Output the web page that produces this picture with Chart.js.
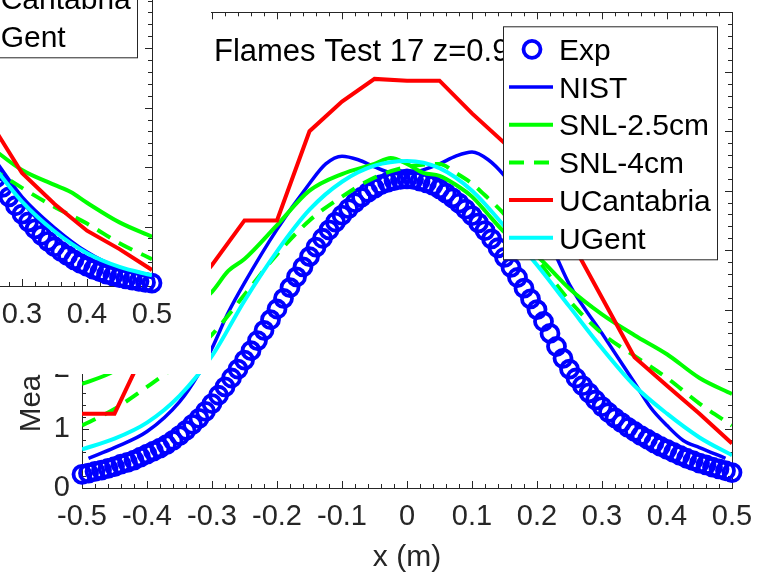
<!DOCTYPE html>
<html>
<head>
<meta charset="utf-8">
<script src="https://cdn.jsdelivr.net/npm/chart.js@4"></script>
<style>
  html, body { margin: 0; padding: 0; background: #fff; }
  #stage { position: relative; width: 769px; height: 574px; overflow: hidden; }
  .fig { position: absolute; width: 769px; height: 574px; }
  #inset { position: absolute; left: 0; top: 0; width: 211px; height: 374px; overflow: hidden; background: #fff; z-index: 2; }
  #inset .fig { left: -580px; top: -202px; }
</style>
</head>
<body>
<div id="stage">
  <div class="fig" style="left:0;top:0"><canvas id="mainChart" width="769" height="574"></canvas></div>
  <div id="inset"><div class="fig"><canvas id="insetChart" width="769" height="574"></canvas></div></div>
</div>
<script>
const seriesNames = ["Exp", "NIST", "SNL-2.5cm", "SNL-4cm", "UCantabria", "UGent"];
const xTicks = [-0.5, -0.4, -0.3, -0.2, -0.1, 0, 0.1, 0.2, 0.3, 0.4, 0.5];
const yTicks = [0, 1, 2, 3, 4, 5, 6, 7, 8];

// z = 0.9 m profiles
const expY = [
  0.23, 0.25, 0.28, 0.30, 0.33, 0.36, 0.40, 0.43, 0.47, 0.52,
  0.57, 0.62, 0.67, 0.73, 0.80, 0.88, 0.97, 1.07, 1.17, 1.29,
  1.42, 1.56, 1.70, 1.85, 2.00, 2.15, 2.31, 2.48, 2.65, 2.83,
  3.01, 3.19, 3.37, 3.55, 3.72, 3.89, 4.05, 4.20, 4.34, 4.47,
  4.59, 4.70, 4.80, 4.89, 4.97, 5.04, 5.10, 5.14, 5.17, 5.19,
  5.20,
  5.19, 5.16, 5.13, 5.09, 5.03, 4.96, 4.88, 4.79, 4.69, 4.58,
  4.46, 4.33, 4.19, 4.04, 3.88, 3.71, 3.54, 3.36, 3.18, 3.00,
  2.80, 2.60, 2.38, 2.18, 2.00, 1.85, 1.72, 1.60, 1.48, 1.37,
  1.27, 1.18, 1.10, 1.02, 0.95, 0.88, 0.82, 0.76, 0.70, 0.65,
  0.60, 0.55, 0.50, 0.46, 0.42, 0.39, 0.35, 0.32, 0.29, 0.26
];
const expX = expY.map((v, i) => +(-0.5 + i * 0.01).toFixed(2));

const nistX = [-0.49, -0.45, -0.4, -0.35, -0.32, -0.3, -0.275, -0.25, -0.2, -0.15, -0.125, -0.1, -0.075, -0.05, -0.025, 0,
  0.025, 0.05, 0.075, 0.1, 0.125, 0.15, 0.2, 0.225, 0.25, 0.3, 0.35, 0.375, 0.4, 0.425, 0.45, 0.49];
const nistY = [0.5, 0.68, 0.95, 1.45, 1.93, 2.35, 2.95, 3.45, 4.35, 5.12, 5.45, 5.58, 5.52, 5.4, 5.3, 5.28,
  5.35, 5.45, 5.58, 5.65, 5.52, 5.25, 4.5, 4.0, 3.42, 2.6, 1.77, 1.35, 1.05, 0.8, 0.68, 0.5];

const snl25X = [-0.5, -0.45, -0.4, -0.35, -0.3, -0.275, -0.25, -0.2, -0.15, -0.1, -0.05, -0.025, 0, 0.025, 0.05,
  0.075, 0.1, 0.125, 0.15, 0.2, 0.25, 0.3, 0.35, 0.4, 0.45, 0.5];
const snl25Y = [1.75, 1.97, 2.4, 2.85, 3.3, 3.65, 3.85, 4.42, 5.0, 5.28, 5.45, 5.55, 5.45, 5.3, 5.25,
  5.1, 4.9, 4.6, 4.3, 3.9, 3.35, 2.92, 2.57, 2.25, 1.85, 1.58];

const snl4X = [-0.5, -0.45, -0.4, -0.35, -0.3, -0.25, -0.2, -0.15, -0.1, -0.05, 0, 0.05, 0.075, 0.1, 0.125,
  0.15, 0.2, 0.25, 0.3, 0.35, 0.4, 0.45, 0.5];
const snl4Y = [1.05, 1.33, 1.7, 2.1, 2.58, 3.25, 3.93, 4.5, 4.9, 5.22, 5.4, 5.45, 5.3, 5.12, 4.87,
  4.6, 3.85, 3.15, 2.6, 2.22, 1.85, 1.42, 1.05];

const ucX = [-0.5, -0.45, -0.4, -0.35, -0.3, -0.25, -0.2, -0.15, -0.1, -0.05, 0, 0.05, 0.1, 0.15, 0.2,
  0.25, 0.3, 0.35, 0.4, 0.45, 0.5];
const ucY = [1.25, 1.25, 2.4, 3.1, 3.75, 4.5, 4.5, 6.0, 6.5, 6.88, 6.85, 6.85, 6.3, 5.8, 5.05,
  4.2, 3.2, 2.2, 1.72, 1.25, 0.75];

const ugentX = [-0.5, -0.45, -0.4, -0.35, -0.3, -0.25, -0.2, -0.15, -0.1, -0.05, 0, 0.05, 0.1, 0.15, 0.2,
  0.25, 0.3, 0.35, 0.4, 0.45, 0.5];
const ugentY = [0.65, 0.83, 1.1, 1.55, 2.22, 3.15, 3.98, 4.68, 5.15, 5.42, 5.5, 5.38, 5.0, 4.4, 3.75,
  3.05, 2.35, 1.72, 1.25, 0.85, 0.55];

// lower-height profiles, outer half only
const insetExpY = [
  1.98, 1.82, 1.66, 1.50, 1.35, 1.21, 1.08, 0.96, 0.85, 0.75,
  0.66, 0.58, 0.51, 0.44, 0.38, 0.33, 0.28, 0.24, 0.20, 0.17,
  0.14, 0.12, 0.10, 0.08, 0.06, 0.05
];
const insetExpX = insetExpY.map((v, i) => +(0.25 + i * 0.01).toFixed(2));
const insetNistX = [0.25, 0.3, 0.35, 0.4, 0.45, 0.5];
const insetNistY = [2.25, 1.5, 0.98, 0.57, 0.3, 0.14];
const insetSnl25X = [0.25, 0.3, 0.35, 0.375, 0.4, 0.45, 0.5];
const insetSnl25Y = [2.35, 1.95, 1.7, 1.58, 1.4, 1.07, 0.83];
const insetSnl4X = [0.25, 0.3, 0.35, 0.4, 0.45, 0.5];
const insetSnl4Y = [2.0, 1.65, 1.33, 1.05, 0.72, 0.45];
const insetUcX = [0.25, 0.3, 0.35, 0.4, 0.45, 0.5];
const insetUcY = [2.78, 1.9, 1.38, 0.93, 0.62, 0.27];
const insetUgentX = [0.25, 0.3, 0.35, 0.4, 0.45, 0.5];
const insetUgentY = [2.1, 1.42, 0.92, 0.55, 0.32, 0.18];

const FONT = '"Liberation Sans", Arial, Helvetica, sans-serif';
const AXIS_COLOR = "#262626";
const BLUE = "rgb(0,0,255)", GREEN = "rgb(0,255,0)", RED = "rgb(255,0,0)", CYAN = "rgb(0,255,255)";

function toPoints(xs, ys) {
  return xs.map((x, i) => ({ x: x, y: ys[i] }));
}

// box with inward major/minor ticks on all four sides
const boxAxes = {
  id: "boxAxes",
  beforeDatasetsDraw(chart) {
    const { ctx, chartArea: a, scales } = chart;
    ctx.save();
    ctx.strokeStyle = AXIS_COLOR;
    ctx.lineWidth = 1;
    ctx.beginPath();
    for (let i = 0; i <= 50; i++) {
      const px = Math.round(scales.x.getPixelForValue(-0.5 + i * 0.02)) + 0.5;
      const len = i % 5 === 0 ? 7 : 4;
      ctx.moveTo(px, a.bottom); ctx.lineTo(px, a.bottom - len);
      ctx.moveTo(px, a.top); ctx.lineTo(px, a.top + len);
    }
    for (let i = 0; i <= 40; i++) {
      const py = Math.round(scales.y.getPixelForValue(i * 0.2)) + 0.5;
      const len = i % 5 === 0 ? 7 : 4;
      ctx.moveTo(a.left, py); ctx.lineTo(a.left + len, py);
      ctx.moveTo(a.right, py); ctx.lineTo(a.right - len, py);
    }
    ctx.stroke();
    ctx.strokeRect(Math.round(a.left) + 0.5, Math.round(a.top) + 0.5,
      Math.round(a.right - a.left), Math.round(a.bottom - a.top));
    ctx.restore();
  }
};

// in-axes title text, then the boxed legend in the upper right
const titleAndLegend = {
  id: "titleAndLegend",
  afterDraw(chart, args, opts) {
    const { ctx, chartArea: a, scales } = chart;
    ctx.save();
    if (opts.title) {
      ctx.font = "31px " + FONT;
      ctx.fillStyle = "#000";
      ctx.textBaseline = "alphabetic";
      ctx.fillText(opts.title, scales.x.getPixelForValue(-0.297), scales.y.getPixelForValue(7.18));
    }
    const w = 214, h = 233;
    const left = a.right - 15 - w, top = a.top + 14;
    ctx.fillStyle = "#fff";
    ctx.fillRect(left, top, w, h);
    ctx.strokeStyle = AXIS_COLOR;
    ctx.lineWidth = 1;
    ctx.strokeRect(left + 0.5, top + 0.5, w, h);
    ctx.font = "30px " + FONT;
    ctx.textBaseline = "alphabetic";
    seriesNames.forEach((name, i) => {
      const ds = chart.data.datasets[i];
      const cy = top + 23 + i * 37.7;
      ctx.strokeStyle = ds.borderColor;
      if (ds.showLine) {
        ctx.lineWidth = ds.borderWidth;
        ctx.setLineDash(ds.borderDash || []);
        ctx.beginPath();
        ctx.moveTo(left + 6, cy);
        ctx.lineTo(left + 50, cy);
        ctx.stroke();
        ctx.setLineDash([]);
      } else {
        ctx.lineWidth = ds.pointBorderWidth;
        ctx.beginPath();
        ctx.arc(left + 29, cy, ds.pointRadius, 0, Math.PI * 2);
        ctx.stroke();
      }
      ctx.fillStyle = "#000";
      ctx.fillText(name, left + 56, cy + 10.7);
    });
    ctx.restore();
  }
};

function makeFigure(canvasId, series, title) {
  const [exp, nist, snl25, snl4, uc, ugent] = series;
  const line = (pts, color, width, order, extra) => Object.assign({
    data: pts, showLine: true, borderColor: color, borderWidth: width,
    pointRadius: 0, cubicInterpolationMode: "monotone", order: order
  }, extra || {});
  const datasets = [
    {
      label: seriesNames[0], data: toPoints(exp[0], exp[1]), showLine: false,
      borderColor: BLUE, pointBorderColor: BLUE, pointBackgroundColor: "rgba(0,0,0,0)",
      pointRadius: 8.5, pointBorderWidth: 3.8, pointHoverRadius: 8.5, clip: false, order: 6
    },
    line(toPoints(nist[0], nist[1]), BLUE, 3.5, 5, { label: seriesNames[1] }),
    line(toPoints(snl25[0], snl25[1]), GREEN, 4, 4, { label: seriesNames[2] }),
    line(toPoints(snl4[0], snl4[1]), GREEN, 4, 3, { label: seriesNames[3], borderDash: [15, 10] }),
    line(toPoints(uc[0], uc[1]), RED, 4, 2, { label: seriesNames[4], cubicInterpolationMode: "default", tension: 0 }),
    line(toPoints(ugent[0], ugent[1]), CYAN, 4, 1, { label: seriesNames[5] })
  ];
  return new Chart(document.getElementById(canvasId), {
    type: "scatter",
    data: { datasets: datasets },
    plugins: [boxAxes, titleAndLegend],
    options: {
      responsive: false,
      animation: false,
      devicePixelRatio: 1,
      events: [],
      layout: { padding: { left: 0, top: 8, right: 37, bottom: 0 } },
      plugins: {
        legend: { display: false },
        tooltip: { enabled: false },
        titleAndLegend: { title: title }
      },
      scales: {
        x: {
          type: "linear", min: -0.5, max: 0.5,
          afterFit: (s) => { s.height = 86; s.paddingLeft = 0; s.paddingRight = 0; },
          afterBuildTicks: (s) => { s.ticks = xTicks.map((v) => ({ value: v })); },
          grid: { display: false, drawTicks: false },
          border: { display: false },
          ticks: {
            padding: 12, color: AXIS_COLOR, maxRotation: 0, autoSkip: false,
            font: { size: 29, family: FONT }, callback: (v) => String(v)
          },
          title: {
            display: true, text: "x (m)", color: AXIS_COLOR,
            font: { size: 30, family: FONT }, padding: { top: 0, bottom: -2 }
          }
        },
        y: {
          type: "linear", min: 0, max: 8,
          afterFit: (s) => { s.width = 82; s.paddingTop = 0; s.paddingBottom = 0; },
          afterBuildTicks: (s) => { s.ticks = yTicks.map((v) => ({ value: v })); },
          grid: { display: false, drawTicks: false },
          border: { display: false },
          ticks: {
            padding: 12, color: AXIS_COLOR, autoSkip: false,
            font: { size: 29, family: FONT }, callback: (v) => String(v)
          },
          title: {
            display: true, text: "Mean Vertical Velocity (m/s)", color: AXIS_COLOR,
            font: { size: 29.5, family: FONT }, padding: { top: 14, bottom: 0 }
          }
        }
      }
    }
  });
}

makeFigure("mainChart", [
  [expX, expY], [nistX, nistY], [snl25X, snl25Y], [snl4X, snl4Y], [ucX, ucY], [ugentX, ugentY]
], "Flames Test 17 z=0.9");

makeFigure("insetChart", [
  [insetExpX, insetExpY], [insetNistX, insetNistY], [insetSnl25X, insetSnl25Y],
  [insetSnl4X, insetSnl4Y], [insetUcX, insetUcY], [insetUgentX, insetUgentY]
], "");
</script>
</body>
</html>
